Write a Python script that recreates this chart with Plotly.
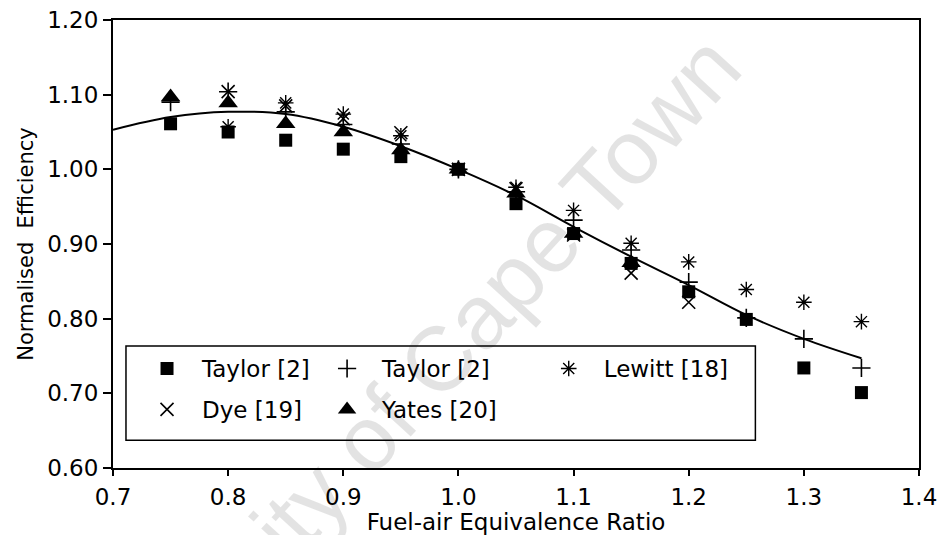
import plotly.graph_objects as go

# Fuel-air equivalence ratio at which each data set was measured
phi_all = [0.75, 0.80, 0.85, 0.90, 0.95, 1.00, 1.05, 1.10, 1.15, 1.20, 1.25, 1.30, 1.35]
phi_lewitt = [0.80, 0.85, 0.90, 0.95, 1.00, 1.05, 1.10, 1.15, 1.20, 1.25, 1.30, 1.35]
phi_dye = [0.80, 0.85, 0.90, 0.95, 1.00, 1.05, 1.10, 1.15, 1.20]
phi_yates = [0.75, 0.80, 0.85, 0.90, 0.95, 1.00, 1.05, 1.10, 1.15]

# Normalised efficiency of each data set
taylor_a = [1.061, 1.050, 1.039, 1.027, 1.017, 1.000, 0.954, 0.914, 0.874, 0.836, 0.799, 0.734, 0.701]
taylor_b = [1.090, 1.104, 1.077, 1.060, 1.034, 1.000, 0.970, 0.932, 0.892, 0.849, 0.801, 0.773, 0.734]
lewitt = [1.057, 1.089, 1.074, 1.045, 1.000, 0.976, 0.945, 0.901, 0.876, 0.839, 0.822, 0.796]
dye = [1.104, 1.085, 1.068, 1.049, 1.000, 0.974, 0.912, 0.861, 0.822]
yates = [1.097, 1.089, 1.061, 1.050, 1.026, 1.000, 0.968, 0.914, 0.875]

# Fitted curve
phi_fit = [0.70, 0.75, 0.80, 0.85, 0.90, 0.95, 1.00, 1.05, 1.10, 1.15, 1.20, 1.25, 1.30, 1.35]
eff_fit = [1.053, 1.070, 1.077, 1.074, 1.057, 1.031, 1.000, 0.965, 0.923, 0.883, 0.845, 0.805, 0.773, 0.747]

x_ticks = [0.7, 0.8, 0.9, 1.0, 1.1, 1.2, 1.3, 1.4]
y_ticks = [0.60, 0.70, 0.80, 0.90, 1.00, 1.10, 1.20]

FONT = "DejaVu Sans"
INK = "black"

fig = go.Figure()

fig.add_trace(go.Scatter(
    x=phi_fit, y=eff_fit, mode="lines", line=dict(color=INK, width=2, shape="spline"),
    showlegend=False, hoverinfo="skip"))

fig.add_trace(go.Scatter(
    x=phi_all, y=taylor_a, mode="markers", name="Taylor [2]",
    marker=dict(symbol="square", size=13, color=INK),
    legend="legend", legendgroup="a"))
fig.add_trace(go.Scatter(
    x=phi_dye, y=dye, mode="markers", name="Dye [19]",
    marker=dict(symbol="x-thin-open", size=13, color=INK, line=dict(color=INK, width=1.6)),
    legend="legend", legendgroup="b"))
fig.add_trace(go.Scatter(
    x=phi_all, y=taylor_b, mode="markers", name="Taylor [2]",
    marker=dict(symbol="cross-thin-open", size=13, color=INK, line=dict(color=INK, width=1.6)),
    legend="legend2", legendgroup="c"))
fig.add_trace(go.Scatter(
    x=phi_yates, y=yates, mode="markers", name="Yates [20]",
    marker=dict(symbol="triangle-up", size=17, color=INK),
    legend="legend2", legendgroup="d"))
fig.add_trace(go.Scatter(
    x=phi_lewitt, y=lewitt, mode="markers", name="Lewitt [18]",
    marker=dict(symbol="asterisk-open", size=13, color=INK, line=dict(color=INK, width=1.4)),
    legend="legend3", legendgroup="e"))

leg_common = dict(
    orientation="v", xanchor="left", yanchor="top", bgcolor="rgba(0,0,0,0)",
    borderwidth=0, itemwidth=60, tracegroupgap=8,
    font=dict(family=FONT, size=23, color=INK))

fig.update_layout(
    width=942, height=535,
    margin=dict(l=113, r=23, t=20, b=67),
    paper_bgcolor="white", plot_bgcolor="white",
    font=dict(family=FONT, color=INK),
    legend=dict(x=0.0236, y=0.270, **leg_common),
    legend2=dict(x=0.247, y=0.270, **leg_common),
    legend3=dict(x=0.522, y=0.270, **leg_common),
    shapes=[dict(type="rect", xref="paper", yref="paper",
                 x0=0.0161, x1=0.797, y0=0.062, y1=0.2723,
                 line=dict(color=INK, width=1.5), layer="above")],
    annotations=[dict(text="University of Cape Town", xref="paper", yref="paper",
                      x=0.346, y=0.128, xanchor="center", yanchor="middle",
                      showarrow=False, textangle=-47.5,
                      font=dict(family="Liberation Sans", size=91,
                                color="rgba(0,0,0,0.11)"))],
)

fig.update_xaxes(
    range=[0.7, 1.4], tickvals=x_ticks, ticktext=[f"{v:.1f}" for v in x_ticks],
    showgrid=False, zeroline=False, showline=True, linecolor=INK, linewidth=2,
    mirror=True, ticks="outside", ticklen=6, tickwidth=1.5, tickcolor=INK,
    ticklabelstandoff=1, automargin=False,
    tickfont=dict(family=FONT, size=23, color=INK),
    title=dict(text="Fuel-air Equivalence Ratio", font=dict(family=FONT, size=23, color=INK),
               standoff=10))

fig.update_yaxes(
    range=[0.6, 1.2], tickvals=y_ticks, ticktext=[f"{v:.2f}" for v in y_ticks],
    showgrid=False, zeroline=False, showline=True, linecolor=INK, linewidth=2,
    mirror=True, ticks="outside", ticklen=8, tickwidth=1.5, tickcolor=INK,
    automargin=False,
    tickfont=dict(family=FONT, size=23, color=INK),
    title=dict(text="Normalised\u00a0 Efficiency", font=dict(family=FONT, size=21, color=INK),
               standoff=8))

fig.write_html("out.html")
